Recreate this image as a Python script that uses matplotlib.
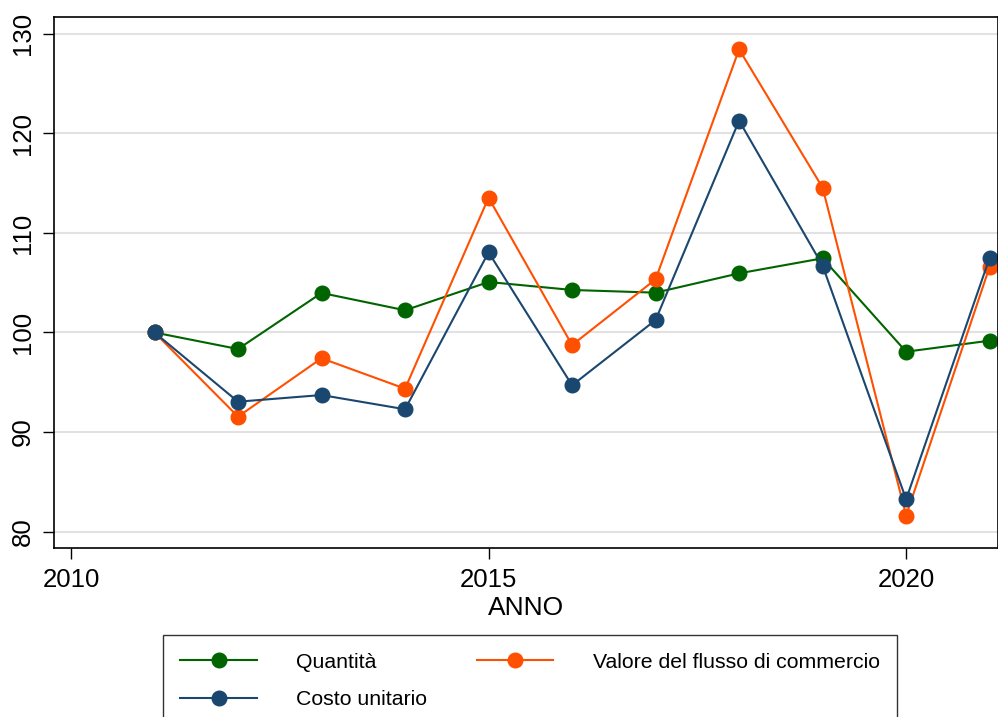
import matplotlib
matplotlib.use("Agg")
import matplotlib.pyplot as plt

years = [2011, 2012, 2013, 2014, 2015, 2016, 2017, 2018, 2019, 2020, 2021]
quantita = [100.0, 98.34, 103.97, 102.23, 105.07, 104.27, 104.0, 105.94, 107.45, 98.07, 99.18]
valore = [100.0, 91.55, 97.41, 94.36, 113.53, 98.74, 105.34, 128.43, 114.54, 81.61, 106.61]
costo = [100.0, 93.05, 93.72, 92.29, 108.05, 94.7, 101.25, 121.27, 106.71, 83.25, 107.51]
labels = ["Quantità", "Valore del flusso di commercio", "Costo unitario"]
xticks = [2010, 2015, 2020]
yticks = [80, 90, 100, 110, 120, 130]

plt.rcParams['font.family'] = ['Liberation Sans', 'DejaVu Sans']

W, H = 998, 717
fig = plt.figure(figsize=(W / 100, H / 100), dpi=100)
ax = fig.add_axes([54.3 / W, 1 - 548.3 / H, (998 - 54.3) / W, (548.3 - 17) / H])

colors = ['#006400', '#ff4f00', '#1a476f']
series = [quantita, valore, costo]
lines = []
for s, c, lab in zip(series, colors, labels):
    ln, = ax.plot(years, s, color=c, lw=1.5, marker='o', ms=10.5, label=lab, clip_on=False)
    lines.append(ln)

ax.set_xlim(2009.8, 2021.1)
ax.set_ylim(78.33, 131.68)
ax.set_xticks(xticks)
ax.set_yticks(yticks)
ax.set_yticklabels([str(v) for v in yticks], rotation=90, va='center')
ax.tick_params(axis='both', direction='out', length=8, width=1.0, labelsize=18.5, pad=6, color='black')
ax.grid(axis='y', color='#e2e2e2', lw=1.5)
ax.set_axisbelow(True)
for sp in ax.spines.values():
    sp.set_linewidth(1.2)
    sp.set_color('black')
ax.set_xlabel('ANNO', fontsize=19, labelpad=3)

order = [0, 2, 1]
leg = fig.legend(
    [lines[i] for i in order], [labels[i] for i in order],
    loc='upper left',
    bbox_to_anchor=(163 / W, 1 - 636 / H, (897 - 163) / W, 0.001),
    mode='expand', ncol=2, frameon=True, fancybox=False,
    edgecolor='black', borderpad=0.82, handlelength=3.6, handletextpad=1.85,
    columnspacing=3.0, labelspacing=0.88, borderaxespad=0, numpoints=1,
    prop={'size': 15.3},
)
leg.get_frame().set_linewidth(1.0)

fig.savefig('out.png', dpi=100, facecolor='white')
